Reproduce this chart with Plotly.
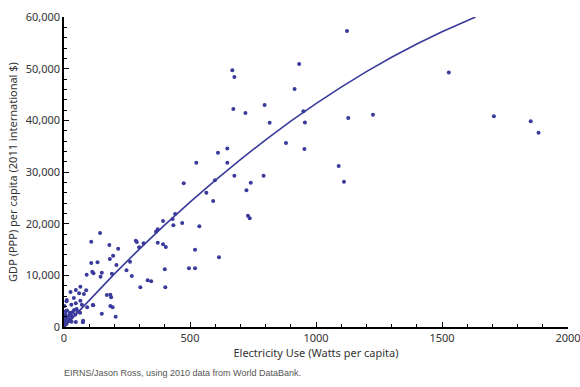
import plotly.graph_objects as go

# Scatter data: electricity use (W per capita) vs GDP PPP per capita
elec = [1123, 933, 915, 950, 956, 1128, 1226, 881, 954, 1090, 1111,
        1527, 1706, 1852, 1883,
        816, 611, 648, 525, 648, 676, 792, 475, 599, 741, 565, 724, 592, 730, 737,
        668, 676, 672, 720, 796,
        393, 441, 431, 469, 434, 537, 372, 365, 316, 372, 393, 404, 520, 615,
        400, 496, 520, 332, 346, 303, 402,
        143, 108, 180, 195, 215, 182, 108, 133, 208, 112, 117, 150, 90, 190,
        248, 262, 269, 285, 289, 298,
        26, 47, 65, 60, 79, 39, 11, 10, 47, 29, 65, 71, 92, 2, 116, 23, 7, 64,
        150, 47, 76, 205, 184, 170, 187, 184, 193, 114, 75, 30, 88, 145,
        2, 5, 8, 10, 14, 18, 20, 25, 28, 32, 35, 40, 45, 50, 55, 3, 6, 12]
gdp = [57300, 50900, 46050, 41740, 39600, 40440, 41080, 35600, 34440, 31150, 28120,
       49280, 40770, 39800, 37600,
       39530, 33730, 34570, 31800, 31800, 29280, 29280, 27800, 28380, 27930, 25990,
       26450, 24380, 21540, 21030,
       49700, 48380, 42180, 41400, 42950,
       20510, 21870, 20900, 20120, 19680, 19480, 18900, 18450, 16190, 16310, 16000,
       15480, 14960, 13490,
       11160, 11350, 11350, 9030, 8840, 7680, 7680,
       18190, 16510, 15870, 13800, 15150, 13160, 12380, 12520, 12000, 10700, 10390,
       10510, 10120, 10310, 10970, 12640, 9870, 16700, 16450, 15420,
       6770, 7160, 7800, 6520, 6390, 5610, 5220, 4970, 4580, 4320, 5090, 4320, 3810,
       4060, 4190, 2770, 3040, 2770,
       2580, 970, 1220, 2000, 6250, 6190, 5740, 4060, 3810, 4260, 910, 1030, 7100, 9730,
       300, 800, 1300, 600, 1800, 1100, 2200, 1500, 2600, 2000, 2900, 3300, 2400,
       3500, 3000, 1600, 2400, 3200]

# Fitted trend curve
fit_x = [0, 100, 200, 300, 400, 500, 600, 700, 800, 900, 1000, 1100, 1200,
         1300, 1400, 1500, 1600, 1633]
fit_y = [0, 5245, 10286, 15122, 19752, 24178, 28398, 32414, 36224, 39830, 43230,
         46426, 49416, 52202, 54782, 57158, 59328, 60000]

x_ticks = [0, 500, 1000, 1500, 2000]
y_ticks = [0, 10000, 20000, 30000, 40000, 50000, 60000]

COLOR = "#3a3a9c"

fig = go.Figure()
fig.add_trace(go.Scatter(x=elec, y=gdp, mode="markers",
                         marker=dict(color=COLOR, size=4),
                         cliponaxis=False, showlegend=False))
fig.add_trace(go.Scatter(x=fit_x, y=fit_y, mode="lines",
                         line=dict(color=COLOR, width=1.6),
                         showlegend=False))

tickfont = dict(family="Noto Sans, Open Sans, sans-serif", size=11, color="#333333")
fig.update_xaxes(range=[0, 2000], tickvals=x_ticks, ticktext=[str(v) for v in x_ticks],
                 showgrid=False, zeroline=False, showline=True, linecolor="black",
                 linewidth=1.5, ticks="inside", ticklen=5, tickcolor="black",
                 tickfont=tickfont, ticklabeloverflow="allow",
                 minor=dict(dtick=100, ticks="inside", ticklen=3, tickcolor="black"),
                 title=dict(text="Electricity Use (Watts per capita)",
                            font=dict(family="Noto Sans, Open Sans, sans-serif",
                                      size=11, color="#333333"),
                            standoff=4))
fig.update_yaxes(range=[0, 60000], tickvals=y_ticks,
                 ticktext=[f"{v:,}" for v in y_ticks],
                 showgrid=False, zeroline=False, showline=True, linecolor="black",
                 linewidth=1.5, ticks="inside", ticklen=5, tickcolor="black",
                 tickfont=tickfont, ticklabeloverflow="allow",
                 minor=dict(dtick=2000, ticks="inside", ticklen=3, tickcolor="black"),
                 title=dict(text="GDP (PPP) per capita (2011 international $)",
                            font=dict(family="Noto Sans, Open Sans, sans-serif",
                                      size=11, color="#333333"),
                            standoff=6))

fig.add_annotation(text="EIRNS/Jason Ross, using 2010 data from World DataBank.",
                   xref="paper", yref="paper", x=-0.003, y=-0.125,
                   xanchor="left", yanchor="top", showarrow=False,
                   font=dict(family="Liberation Sans, Arial, sans-serif", size=9,
                             color="#555555"))

fig.update_layout(width=580, height=387, plot_bgcolor="white", paper_bgcolor="white",
                  margin=dict(l=64, r=12, t=17, b=60, autoexpand=False))

fig.write_html("out.html", config={"displayModeBar": False},
               post_script="document.body.style.margin='0';document.body.style.overflow='hidden';")
